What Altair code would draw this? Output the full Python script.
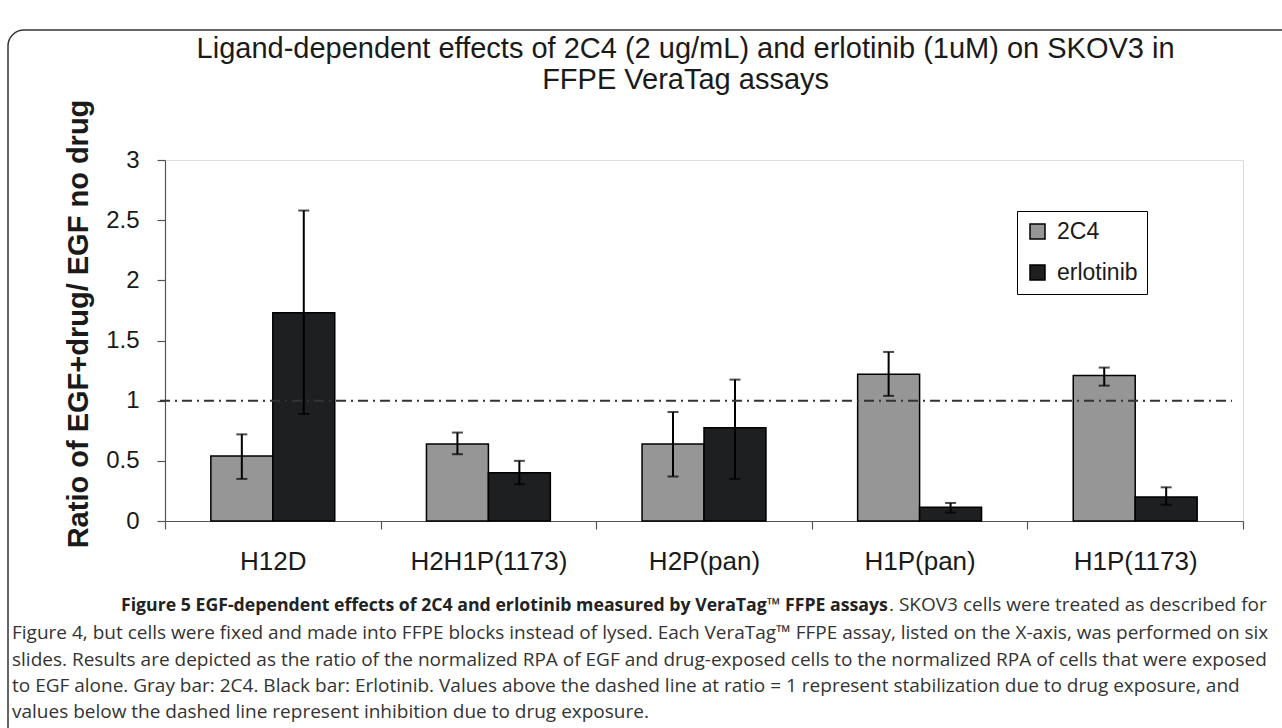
import altair as alt
import pandas as pd

assays = ["H12D", "H2H1P(1173)", "H2P(pan)", "H1P(pan)", "H1P(1173)"]
series = ["2C4", "erlotinib"]
val_2c4 = [0.54, 0.64, 0.64, 1.22, 1.21]
lo_2c4 = [0.35, 0.555, 0.37, 1.04, 1.125]
hi_2c4 = [0.72, 0.735, 0.905, 1.405, 1.275]
val_erl = [1.73, 0.40, 0.775, 0.115, 0.20]
lo_erl = [0.89, 0.305, 0.35, 0.07, 0.135]
hi_erl = [2.58, 0.50, 1.175, 0.15, 0.28]
y_ticks = [0, 0.5, 1, 1.5, 2, 2.5, 3]
ref_level = [1]

title_lines = ["Ligand-dependent effects of 2C4 (2 ug/mL) and erlotinib (1uM) on SKOV3 in",
               "FFPE VeraTag assays"]
y_title = "Ratio of EGF+drug/ EGF no drug"
cap_bold = "Figure 5 EGF-dependent effects of 2C4 and erlotinib measured by VeraTag\u2122 FFPE assays"
cap_first_rest = ". SKOV3 cells were treated as described for"
cap_lines = [
    "Figure 4, but cells were fixed and made into FFPE blocks instead of lysed. Each VeraTag\u2122 FFPE assay, listed on the X-axis, was performed on six",
    "slides. Results are depicted as the ratio of the normalized RPA of EGF and drug-exposed cells to the normalized RPA of cells that were exposed",
    "to EGF alone. Gray bar: 2C4. Black bar: Erlotinib. Values above the dashed line at ratio = 1 represent stabilization due to drug exposure, and",
    "values below the dashed line represent inhibition due to drug exposure.",
]

rows = []
for i, a in enumerate(assays):
    rows.append({"assay": a, "series": series[0], "value": val_2c4[i], "lo": lo_2c4[i], "hi": hi_2c4[i]})
    rows.append({"assay": a, "series": series[1], "value": val_erl[i], "lo": lo_erl[i], "hi": hi_erl[i]})
df = pd.DataFrame(rows)

W, H = 1078, 361
PL, PT = 165, 160
FONT = "Liberation Sans"
CAPFONT = "Open Sans"

xenc = alt.X("assay:N", sort=assays,
             scale=alt.Scale(paddingInner=0, paddingOuter=0),
             axis=alt.Axis(title=None, labelFontSize=26, labelFont=FONT, labelColor="#1a1a1a",
                           labelAngle=0, tickBand="extent", tickSize=8, tickColor="#555555",
                           domainColor="#555555", tickWidth=1.2, domainWidth=1.2, labelPadding=19))
xoff = alt.XOffset("series:N", sort=series, scale=alt.Scale(paddingOuter=0.74, paddingInner=0))
yscale = alt.Scale(domain=[0, 3], nice=False)
yenc_axis = alt.Axis(title=None, values=y_ticks, format="~g", labelFontSize=24, labelFont=FONT,
                     labelColor="#1a1a1a", tickSize=8, tickColor="#555555", domainColor="#555555",
                     tickWidth=1.2, domainWidth=1.2, grid=False, labelPadding=18)

base = alt.Chart(df).encode(x=xenc, xOffset=xoff)

bars = base.mark_bar(stroke="black", strokeWidth=1.5).encode(
    y=alt.Y("value:Q", scale=yscale, axis=yenc_axis),
    color=alt.Color("series:N", sort=series,
                    scale=alt.Scale(domain=series, range=["#969696", "#1e1f21"]),
                    legend=alt.Legend(title=None, orient="none", legendX=852, legendY=51,
                                      direction="vertical", symbolType="square", symbolSize=225,
                                      symbolStrokeColor="black", symbolStrokeWidth=1.5,
                                      labelFontSize=23, labelFont=FONT, labelColor="#1a1a1a",
                                      labelOffset=8, padding=9, rowPadding=17,
                                      strokeColor="black", fillColor="white", symbolOpacity=1)),
)
err = base.mark_rule(color="black", strokeWidth=2).encode(y=alt.Y("lo:Q", scale=yscale), y2="hi:Q")
cap_lo = base.mark_tick(color="black", thickness=2, size=11).encode(y=alt.Y("lo:Q", scale=yscale))
cap_hi = base.mark_tick(color="black", thickness=2, size=11).encode(y=alt.Y("hi:Q", scale=yscale))

ref = alt.Chart(pd.DataFrame({"ref": ref_level})).mark_rule(
    color="#333333", strokeWidth=2, strokeDash=[10, 5, 2, 5]
).encode(y=alt.Y("ref:Q", scale=yscale), x=alt.value(-5), x2=alt.value(1067))

one = pd.DataFrame({"k": [0]})
frame = alt.Chart(one).mark_rect(fill=None, stroke="#333333", strokeWidth=1.5, cornerRadius=16).encode(
    x=alt.value(8 - PL), x2=alt.value(1300 - PL), y=alt.value(30 - PT), y2=alt.value(760 - PT))


def txt(s, x, y, size, weight="normal", align="left", font=FONT, color="#1a1a1a", angle=0, baseline="alphabetic"):
    return alt.Chart(pd.DataFrame({"t": [s]})).mark_text(
        font=font, fontSize=size, fontWeight=weight, align=align, baseline=baseline, color=color, angle=angle
    ).encode(text="t:N", x=alt.value(x), y=alt.value(y))


texts = [
    txt(title_lines[0], 685.6 - PL, 58 - PT, 29, align="center"),
    txt(title_lines[1], 685.6 - PL, 89 - PT, 29, align="center"),
    txt(y_title, 79 - PL, 324 - PT, 29, weight="bold", align="center", angle=270, baseline="middle"),
    txt(cap_bold, 121 - PL, 611 - PT, 17.7, weight="bold", font=CAPFONT, color="#222222"),
    txt(cap_first_rest, 889 - PL, 611 - PT, 19.0, font=CAPFONT, color="#333333"),
]
for i, (line, yb) in enumerate(zip(cap_lines, [639, 666, 692, 718])):
    texts.append(txt(line, 12 - PL, yb - PT, 19.0, font=CAPFONT, color="#333333"))

chart = alt.layer(frame, bars, err, cap_lo, cap_hi, ref, *texts).properties(
    width=W, height=H,
    autosize=alt.AutoSizeParams(type="none"),
    padding={"left": PL, "top": PT, "right": 1282 - PL - W, "bottom": 728 - PT - H},
).configure_view(stroke=None).configure(background="white")

chart.save("out.html", embed_options={"renderer": "svg", "actions": False})
